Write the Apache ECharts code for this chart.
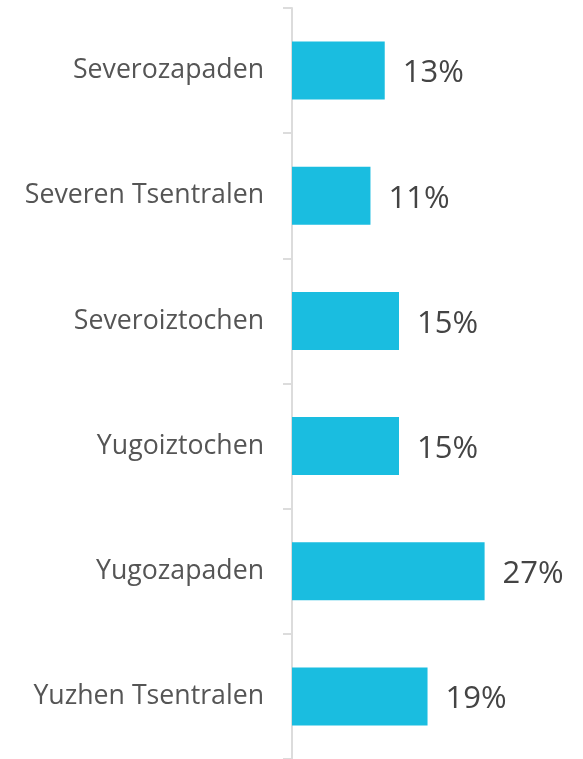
<!DOCTYPE html>
<html>
<head>
<meta charset="utf-8">
<script src="https://cdn.jsdelivr.net/npm/echarts@6/dist/echarts.min.js"></script>
<style>
  html, body { margin: 0; padding: 0; background: #fff; }
  #chart { width: 583px; height: 759px; }
</style>
</head>
<body>
<div id="chart"></div>
<script>
const regions = ['Severozapaden', 'Severen Tsentralen', 'Severoiztochen', 'Yugoiztochen', 'Yugozapaden', 'Yuzhen Tsentralen']
const shares = [13, 11, 15, 15, 27, 19]

const myChart = echarts.init(document.getElementById('chart'))
const option = {
  backgroundColor: '#fff',
  textStyle: { fontFamily: 'Open Sans' },
  grid: { left: 292, right: 77, top: 8, bottom: 0, containLabel: false },
  xAxis: {
    type: 'value',
    min: 0,
    max: 30,
    show: false
  },
  yAxis: {
    type: 'category',
    inverse: true,
    data: regions,
    axisLine: { lineStyle: { color: '#dcdcdc', width: 2 } },
    axisTick: { show: true, length: 9, lineStyle: { color: '#dcdcdc', width: 2 } },
    axisLabel: { margin: 28, fontSize: 26.7, color: '#555', padding: [8, 0, 0, 0], fontFamily: 'Open Sans' }
  },
  series: [
    {
      type: 'bar',
      data: shares,
      barWidth: 58,
      itemStyle: { color: '#1abde0' },
      label: {
        show: true,
        position: 'right',
        distance: 18,
        offset: [0, 3],
        formatter: '{c}%',
        fontSize: 31,
        color: '#444',
        fontFamily: 'Open Sans'
      },
      animation: false
    }
  ]
}
option && myChart.setOption(option)
</script>
</body>
</html>
